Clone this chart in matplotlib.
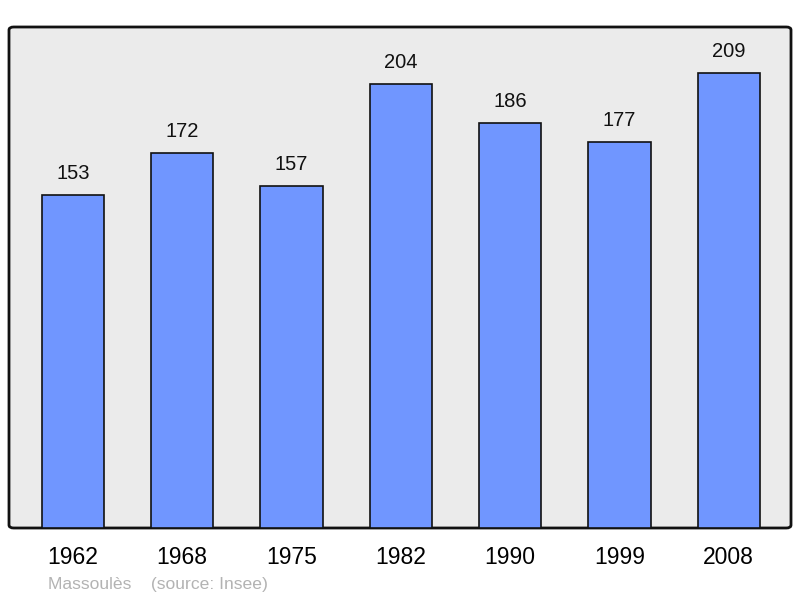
import matplotlib
matplotlib.use('Agg')
import matplotlib.pyplot as plt
from matplotlib.patches import FancyBboxPatch

years = ['1962', '1968', '1975', '1982', '1990', '1999', '2008']
population = [153, 172, 157, 204, 186, 177, 209]
source_text = 'Massoulès    (source: Insee)'

plt.rcParams['font.family'] = ['Liberation Sans', 'DejaVu Sans']

fig = plt.figure(figsize=(8, 5.98), dpi=100)
ax = fig.add_axes([9 / 800, 70 / 598, 782 / 800, 501 / 598])
ax.set_facecolor('none')

# rounded frame with grey fill
frame = FancyBboxPatch((0, 0), 1, 1, boxstyle='round,pad=0,rounding_size=0.006',
                       transform=ax.transAxes, facecolor='#ebebeb',
                       edgecolor='#111111', linewidth=2, zorder=0, clip_on=False)
ax.add_patch(frame)

x = range(len(years))
ax.bar(x, population, width=0.57, color='#7096ff', edgecolor='#111111',
       linewidth=1.2, zorder=2)

for xi, v in zip(x, population):
    ax.annotate(str(v), (xi, v), xytext=(0, 15.5), textcoords='offset points',
                ha='center', va='center', fontsize=14.5, color='#111111')

ax.set_xlim(-0.585, 6.57)
ax.set_ylim(0, 230)
ax.set_yticks([])
ax.set_xticks(list(x))
ax.set_xticklabels(years, fontsize=16.5)
ax.tick_params(axis='x', length=0, pad=13)
for s in ax.spines.values():
    s.set_visible(False)

fig.text(48 / 800, 1 - 584 / 598, source_text, fontsize=12.6, color='#b3b3b3',
         ha='left', va='center')

fig.savefig('out.png', dpi=100)
